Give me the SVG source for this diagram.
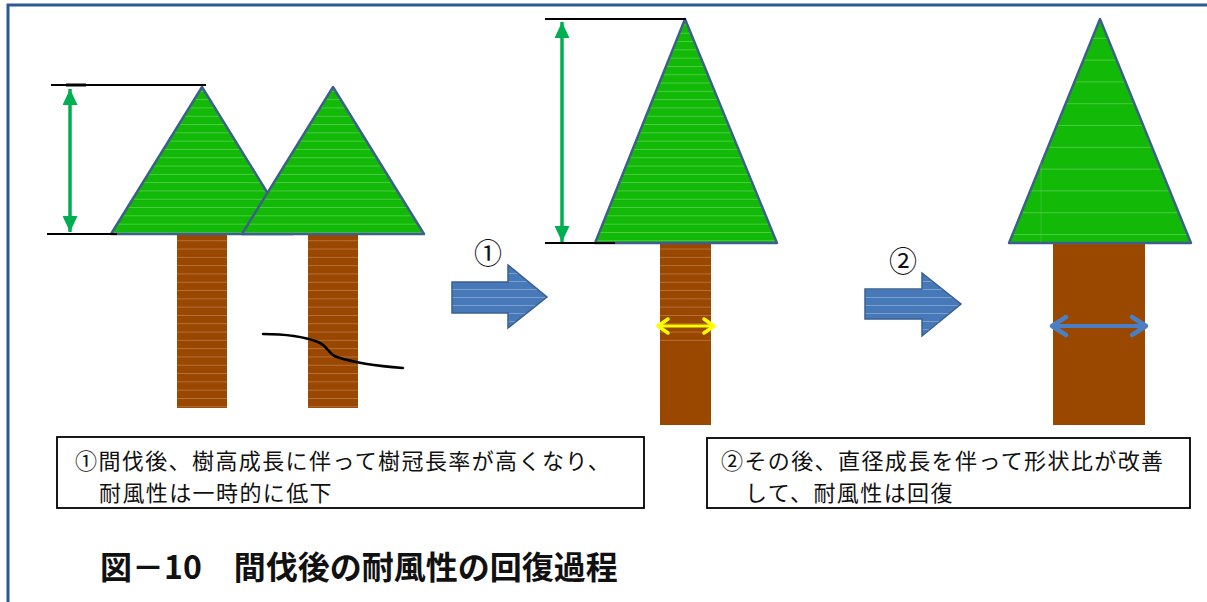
<svg xmlns="http://www.w3.org/2000/svg" width="1207" height="602" viewBox="0 0 1207 602">
  <style>
    .crown { stroke: #3e5f8c; stroke-width: 2.4; stroke-linejoin: round; }
    .trunk { fill: #9a4700; }
    .guide { stroke: #000; stroke-width: 2; fill: none; }
    .measure { stroke: #00b050; stroke-width: 3.5; fill: none; }
    .block { stroke: #3a5f90; stroke-width: 1.5; stroke-linejoin: miter; }
    .note { fill: #fff; stroke: #000; stroke-width: 1.8; }
    .txt { font-family: "Noto Sans CJK JP", "Liberation Sans", sans-serif; fill: #111; }
    .cap { font-size: 22px; letter-spacing: 1.4px; }
    .step { font-size: 28px; text-anchor: middle; }
    .title { font-size: 32px; font-weight: bold; }
  </style>
  <defs>
    <pattern id="leaf" patternUnits="userSpaceOnUse" width="20" height="8.3" y="0.5">
      <rect width="20" height="8.3" fill="#12b906"/>
      <rect y="7.5" width="20" height="0.8" fill="#58cf52"/>
    </pattern>
    <pattern id="leafWide" patternUnits="userSpaceOnUse" width="20" height="21.8" y="17">
      <rect width="20" height="21.8" fill="#12b906"/>
      <rect y="21" width="20" height="0.8" fill="#58cf52"/>
    </pattern>
    <pattern id="bark" patternUnits="userSpaceOnUse" width="20" height="8.3" y="0.5">
      <rect width="20" height="8.3" fill="#9a4700"/>
      <rect y="7.5" width="20" height="0.8" fill="#b9794a"/>
    </pattern>
    <pattern id="blockFill" patternUnits="userSpaceOnUse" width="20" height="8" y="2">
      <rect width="20" height="8" fill="#4779b8"/>
      <rect y="7.2" width="20" height="0.8" fill="#86a9d6"/>
    </pattern>
    <marker id="greenTip" viewBox="0 0 16 15" refX="16" refY="7.5" markerWidth="16" markerHeight="15" orient="auto-start-reverse" markerUnits="userSpaceOnUse">
      <path d="M0,0 L16,7.5 L0,15 z" fill="#00b050"/>
    </marker>
  </defs>

  <!-- outer frame -->
  <rect id="frame" x="8" y="5" width="1300" height="700" fill="#fff" stroke="#2c5a93" stroke-width="3"/>

  <!-- before thinning: two neighbouring trees -->
  <g id="tree-1">
    <rect x="177" y="234" width="50" height="174" fill="url(#bark)"/>
    <polygon class="crown" points="202,87 293,234 111,234" fill="url(#leaf)"/>
  </g>
  <g id="tree-2">
    <rect x="308" y="234" width="50" height="174" fill="url(#bark)"/>
    <polygon class="crown" points="333,87 424,234 242,234" fill="url(#leaf)"/>
    <path d="M263,334 C285,334 305,337 318,342 C328,346 329,355 337,357 C352,362 376,366 403,368" stroke="#000" stroke-width="2.5" fill="none" stroke-linecap="round"/>
  </g>

  <!-- after thinning: taller crown -->
  <g id="tree-3">
    <rect class="trunk" x="660" y="243" width="51" height="182"/>
    <rect x="660" y="243" width="51" height="100" fill="url(#bark)"/>
    <polygon class="crown" points="685,19 777,243 595,243" fill="url(#leaf)"/>
  </g>

  <!-- later: thicker stem -->
  <g id="tree-4">
    <rect class="trunk" x="1053" y="243" width="92" height="182"/>
    <polygon class="crown" points="1100,19 1191,243 1009,243" fill="url(#leafWide)"/>
    <line x1="1041" y1="162" x2="1041" y2="242" stroke="#58cf52" stroke-width="0.8" opacity="0.6"/>
  </g>

  <g id="connectors">
    <!-- crown length guides -->
    <line class="guide" x1="51" y1="85" x2="206" y2="85"/>
    <line x1="66" y1="85" x2="86" y2="85" stroke="#000" stroke-width="3"/>
    <line class="guide" x1="47" y1="234" x2="117" y2="234"/>
    <line class="measure" x1="70" y1="89" x2="70" y2="232" marker-start="url(#greenTip)" marker-end="url(#greenTip)"/>

    <line class="guide" x1="545" y1="19" x2="686" y2="19"/>
    <line class="guide" x1="545" y1="243" x2="615" y2="243"/>
    <line class="measure" x1="562" y1="22" x2="562" y2="242" stroke-width="3" marker-start="url(#greenTip)" marker-end="url(#greenTip)"/>

    <!-- stem diameter arrows -->
    <line x1="659" y1="326" x2="713" y2="326" stroke="#ffff00" stroke-width="3"/>
    <path d="M668,319 L658,326 L668,333 M704,319 L714,326 L704,333" stroke="#ffff00" stroke-width="3.5" fill="none" stroke-linecap="round" stroke-linejoin="round"/>

    <line x1="1052" y1="326" x2="1146" y2="326" stroke="#4a7fc4" stroke-width="4"/>
    <path d="M1066,317 L1052,326 L1066,335 M1132,317 L1146,326 L1132,335" stroke="#4a7fc4" stroke-width="4.5" fill="none" stroke-linecap="round" stroke-linejoin="round"/>

    <!-- process arrows -->
    <polygon class="block" points="452,282 508,282 508,265 547,297 508,328 508,313 452,313" fill="url(#blockFill)"/>
    <polygon class="block" points="865,289 922,289 922,273 961,304 922,336 922,319 865,319" fill="url(#blockFill)"/>
  </g>

  <g id="step-labels">
    <text class="txt step" x="488" y="264">①</text>
    <text class="txt step" x="903" y="272">②</text>
  </g>

  <g id="note-1">
    <rect class="note" x="57" y="437" width="587" height="71"/>
    <text class="txt cap" x="75" y="469">①間伐後、樹高成長に伴って樹冠長率が高くなり、</text>
    <text class="txt cap" x="99" y="501">耐風性は一時的に低下</text>
  </g>

  <g id="note-2">
    <rect class="note" x="707" y="438" width="483" height="70"/>
    <text class="txt cap" x="721" y="469">②その後、直径成長を伴って形状比が改善</text>
    <text class="txt cap" x="745" y="501">して、耐風性は回復</text>
  </g>

  <text id="title" class="txt title" x="100" y="579">図－10　間伐後の耐風性の回復過程</text>
</svg>
